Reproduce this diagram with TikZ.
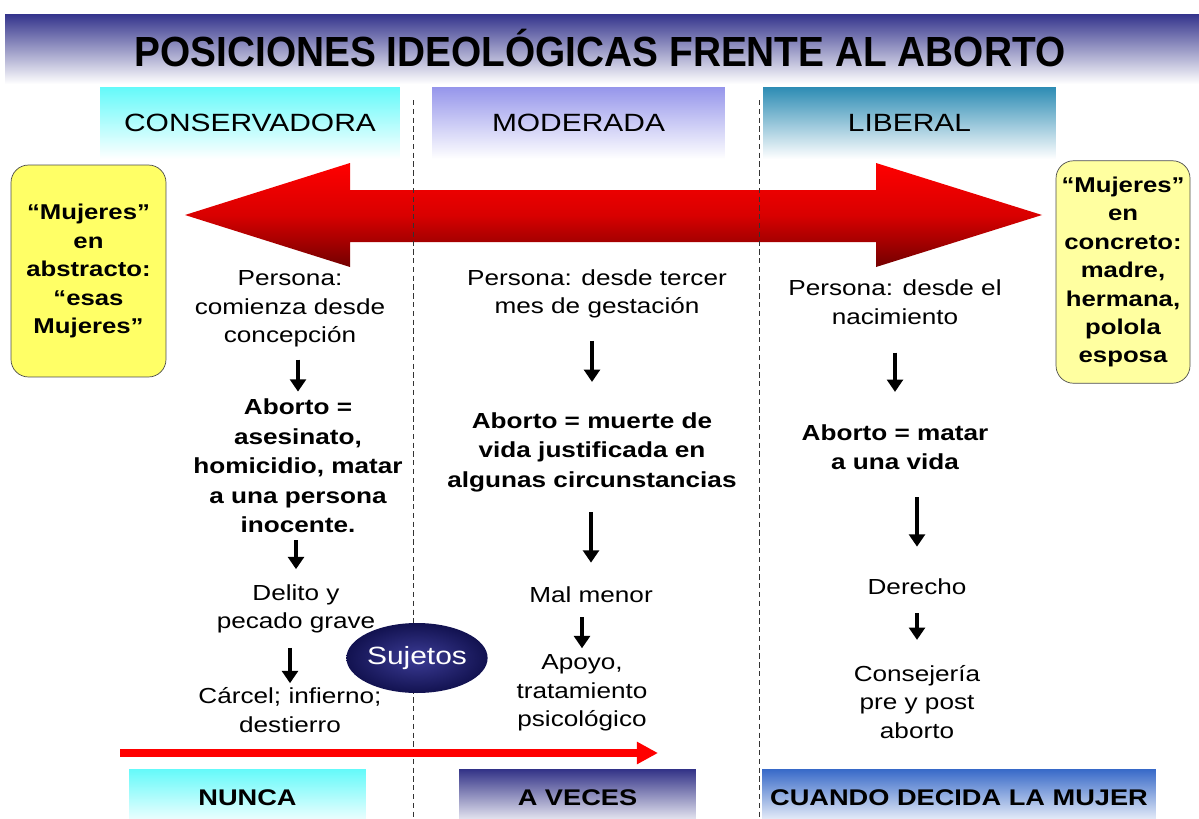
\documentclass[tikz,border=0pt]{standalone}
\usepackage{fontspec}
\setmainfont{Liberation Sans}[FakeStretch=1.2]
\newfontfamily\titlefont{Liberation Sans}[FakeStretch=0.92]
\usetikzlibrary{arrows.meta, positioning, shapes.geometric}

\definecolor{bandblue}{RGB}{52,52,140}
\definecolor{conscyan}{RGB}{100,250,250}
\definecolor{modlilac}{RGB}{150,150,235}
\definecolor{libteal}{RGB}{45,140,180}
\definecolor{vecesblue}{RGB}{50,50,135}
\definecolor{cuandoblue}{RGB}{55,105,200}
\definecolor{boxyellow}{RGB}{255,255,102}
\definecolor{boxpale}{RGB}{255,255,160}
\definecolor{sujdark}{RGB}{18,18,80}
\definecolor{sujlight}{RGB}{60,60,150}

\begin{document}
\begin{tikzpicture}[x=0.02cm, y=-0.02cm,
    every node/.style={font=\fontsize{12.4}{16.3}\selectfont, inner sep=0pt, align=center},
    bold/.style={font=\fontsize{12.4}{16.8}\selectfont\bfseries},
    header/.style={minimum height=1.44cm, bottom color=white, font=\fontsize{14.2}{17}\selectfont},
    footer/.style={minimum height=1.16cm, bottom color=white, font=\fontsize{12.9}{15}\selectfont\bfseries},
    note/.style={draw=black!70, rounded corners=3.5mm, font=\fontsize{12.2}{16.2}\selectfont\bfseries},
    flow/.style={line width=2.2pt, -{Triangle[length=7pt, width=9pt]}},
    divider/.style={dash pattern=on 3pt off 2pt, line width=0.5pt, black!80}]
    \useasboundingbox (0,0) rectangle (1199,818);

    % title band
    \shade[top color=bandblue, bottom color=white] (5,14) rectangle (1199,84);
    \node[font=\titlefont\fontsize{24}{29}\selectfont\bfseries] (title) at (600,48) {POSICIONES IDEOLÓGICAS FRENTE AL ABORTO};

    % column headers
    \node[header, top color=conscyan, minimum width=6cm] (hcons) at (250,123) {CONSERVADORA};
    \node[header, top color=modlilac, minimum width=5.86cm] (hmod) at (578.5,123) {MODERADA};
    \node[header, top color=libteal, minimum width=5.86cm] (hlib) at (909.5,123) {LIBERAL};

    % big double arrow
    \shade[top color=red, bottom color=red!45!black, middle color=red!85!black]
        (185,215) -- (350,163) -- (350,190) -- (876,190) -- (876,163) -- (1042,215)
        -- (876,267) -- (876,242) -- (350,242) -- (350,267) -- cycle;

    % dividers
    \coordinate (dl top) at (413,100);
    \coordinate (dl bot) at (413,818);
    \coordinate (dr top) at (759,100);
    \coordinate (dr bot) at (759,818);
    \draw[divider] (dl top) -- (dl bot);
    \draw[divider] (dr top) -- (dr bot);

    % side notes
    \node[note, fill=boxyellow, minimum width=3.1cm, minimum height=4.24cm] (abstracto) at (88.5,271)
        {“Mujeres”\\en\\abstracto:\\“esas\\Mujeres”};
    \node[note, fill=boxpale, minimum width=2.68cm, minimum height=4.45cm] (concreto) at (1123,272)
        {“Mujeres”\\en\\concreto:\\madre,\\hermana,\\polola\\esposa};

    % conservadora
    \node (lp) at (290,309) {Persona:\\comienza desde\\concepción};
    \node[bold] (la) at (298,466) {Aborto =\\asesinato,\\homicidio, matar\\a una persona\\inocente.};
    \node (ld) at (296,609) {Delito y\\pecado grave};
    \node (lc) at (290,710) {Cárcel; infierno;\\destierro};
    \draw[flow, shorten <=2.4mm, shorten >=1.4mm] (la.north |- lp.south) -- (la.north);
    \draw[flow, shorten <=1.4mm, shorten >=3mm] (ld.north |- la.south) -- (ld.north);
    \draw[flow, shorten <=2.8mm, shorten >=0.8mm] (lc.north |- ld.south) -- (lc.north);

    % moderada
    \node (mp) at (597,294) {Persona: desde tercer\\mes de gestación};
    \node[bold] (ma) at (592,452) {Aborto = muerte de\\vida justificada en\\algunas circunstancias};
    \node (mm) at (591,595) {Mal menor};
    \node (mt) at (582,693) {Apoyo,\\tratamiento\\psicológico};
    \draw[flow, shorten <=4.4mm, shorten >=6mm] (ma.north |- mp.south) -- (ma.north);
    \draw[flow, shorten <=4mm, shorten >=4.8mm] (mm.north |- ma.south) -- (mm.north);
    \draw[flow, shorten <=2.8mm, shorten >=1.2mm] (mt.north |- mm.south) -- (mt.north);

    % liberal
    \node (rp) at (895,302) {Persona: desde el\\nacimiento};
    \node[bold] (ra) at (895,447) {Aborto = matar\\a una vida};
    \node (rd) at (917,587) {Derecho};
    \node (rc) at (917,702) {Consejería\\pre y post\\aborto};
    \draw[flow, shorten <=5.6mm, shorten >=6.4mm] (ra.north |- rp.south) -- (ra.north);
    \draw[flow, shorten <=5.4mm, shorten >=6.4mm] (rd.north |- ra.south) -- (rd.north);
    \draw[flow, shorten <=3.6mm, shorten >=5mm] (rc.north |- rd.south) -- (rc.north);

    % sujetos
    \node[ellipse, minimum width=2.48cm, minimum height=1.4cm, inner color=sujlight, outer color=sujdark,
        text=white, font=\fontsize{14.2}{17}\selectfont] (sujetos) at (417,658) {Sujetos};

    % red scale arrow
    \coordinate (scale start) at (120,753);
    \coordinate (scale end) at (658,753);
    \draw[line width=4pt, red, -{Triangle[length=12pt, width=12pt]}] (scale start) -- (scale end);

    % footers
    \node[footer, top color=conscyan, minimum width=4.74cm] (fnunca) at (247.5,798) {NUNCA};
    \node[footer, top color=vecesblue, minimum width=4.74cm] (fveces) at (577.5,798) {A VECES};
    \node[footer, top color=cuandoblue, minimum width=7.88cm] (fcuando) at (959,798) {CUANDO DECIDA LA MUJER};
\end{tikzpicture}
\end{document}
